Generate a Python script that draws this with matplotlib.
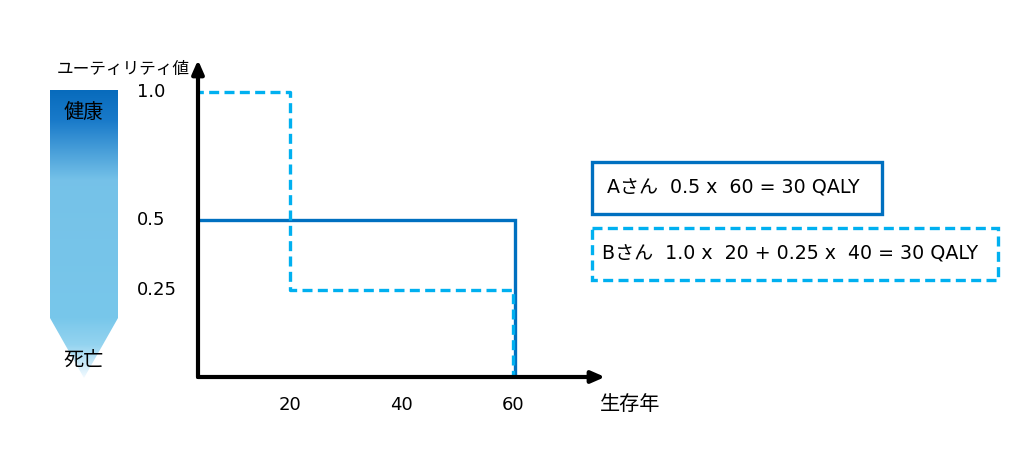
import numpy as np
import matplotlib.pyplot as plt
from matplotlib.patches import Polygon, Rectangle
from matplotlib import transforms

plt.rcParams['font.family'] = ['DejaVu Sans', 'Noto Sans CJK JP']

# step data: (year, utility)
a_years = [0, 60, 60]
a_util = [0.5, 0.5, 0.0]
b_years = [0, 20, 20, 60, 60]
b_util = [1.0, 1.0, 0.25, 0.25, 0.0]

x_ticks = [20, 40, 60]
x_tick_labels = ['20', '40', '60']
y_ticks = [1.0, 0.5, 0.25]
y_tick_labels = ['1.0', '0.5', '0.25']

box_a_text = 'Aさん  0.5 x  60 = 30 QALY'
box_b_text = 'Bさん  1.0 x  20 + 0.25 x  40 = 30 QALY'

blue = '#0070c0'
cyan = '#00b0f0'
fs = 13

W, H = 1024, 454
fig = plt.figure(figsize=(W / 100, H / 100), dpi=100)

# overlay in pixel coords for the gradient bar and formula boxes
ov = fig.add_axes([0, 0, 1, 1])
ov.set_xlim(0, W)
ov.set_ylim(H, 0)
ov.axis('off')

# gradient arrow on the left
stops_y = [90, 120, 180, 318, 345, 378]
stops_c = np.array([
    [0.03, 0.42, 0.74],
    [0.10, 0.48, 0.79],
    [0.46, 0.76, 0.91],
    [0.47, 0.78, 0.92],
    [0.58, 0.83, 0.94],
    [0.95, 0.98, 1.00],
])
ys = np.arange(90, 379)
grad = np.stack([np.interp(ys, stops_y, stops_c[:, i]) for i in range(3)], axis=-1)
grad = grad[:, None, :].repeat(2, axis=1)
im = ov.imshow(grad, extent=(50, 118, 378, 90), aspect='auto', zorder=1)
shape = Polygon([(50, 90), (118, 90), (118, 318), (84, 378), (50, 318)],
                closed=True, facecolor='none', edgecolor='none')
ov.add_patch(shape)
im.set_clip_path(shape)
ov.text(84, 112, '健康', ha='center', va='center', fontsize=14.5, zorder=3)
ov.text(84, 361, '死亡', ha='center', va='center', fontsize=14.5, zorder=3)

# formula boxes
ov.add_patch(Rectangle((592, 162), 290, 52, fill=False, edgecolor=blue, lw=2.4))
ov.text(607, 188, box_a_text, ha='left', va='center', fontsize=13.7)
ov.add_patch(Rectangle((592, 228), 406, 52, fill=False, edgecolor=cyan, lw=2.4,
                       linestyle=(0, (3, 1.6))))
ov.text(602, 254, box_b_text, ha='left', va='center', fontsize=13.7)

ov.text(123, 69, 'ユーティリティ値', ha='center', va='center', fontsize=12)
ov.text(630, 404, '生存年', ha='center', va='center', fontsize=14.5)

# main plot (schematic: utility axis is slightly stretched near the bottom)
p = 0.86
ax = fig.add_axes([198 / W, 77 / H, 407 / W, 317 / H])
ax.set_yscale('function', functions=(lambda v: np.clip(v, 0, None) ** p,
                                     lambda v: np.clip(v, 0, None) ** (1 / p)))
ytop = 1.131
ax.set_xlim(3.5, 76.5)
ax.set_ylim(0, ytop)
ax.patch.set_alpha(0)
for s in ax.spines.values():
    s.set_visible(False)

shift = transforms.offset_copy(ax.transData, fig=fig, x=2, y=0, units='dots')
ax.plot(a_years, a_util, color=blue, lw=2.4, transform=shift, solid_joinstyle='miter')
ax.plot(b_years, b_util, color=cyan, lw=2.4, linestyle=(0, (3, 1.6)))

# axes with arrows
arrow = dict(arrowstyle='-|>,head_length=0.8,head_width=0.35',
             color='black', lw=3, shrinkA=0, shrinkB=0)
ax.annotate('', xy=(76.5, 0), xytext=(3.5, 0), arrowprops=arrow,
            annotation_clip=False)
ax.annotate('', xy=(3.5, ytop), xytext=(3.5, 0), arrowprops=arrow,
            annotation_clip=False)

ax.set_xticks(x_ticks, x_tick_labels, fontsize=fs)
ax.set_yticks(y_ticks, y_tick_labels, fontsize=fs)
ax.minorticks_off()
ax.tick_params(axis='x', length=0, pad=14)
ax.tick_params(axis='y', length=0, pad=44)
for lab in ax.get_yticklabels():
    lab.set_horizontalalignment('left')
    lab.set_verticalalignment('center')

fig.savefig('out.png', dpi=100)
